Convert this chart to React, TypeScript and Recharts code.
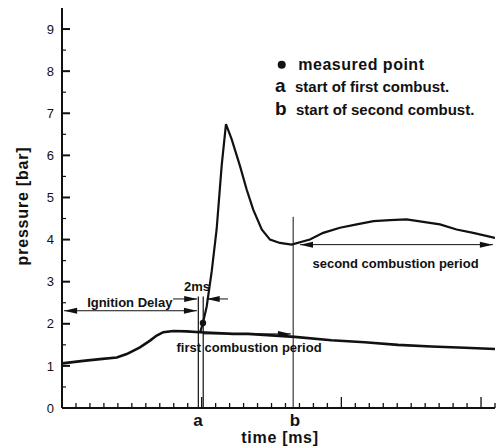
import React from "react";
import { LineChart, Line, XAxis, YAxis, ReferenceLine, ReferenceDot } from "recharts";

// ---- data (time in minor-tick units of ms, pressure in bar) ----
const lowTime = [0, 1.52, 2.72, 3.92, 4.63, 5.58, 6.3, 6.78, 7.25, 7.97, 8.93, 9.88, 12.26, 13.32, 16.66, 19.28, 21.67, 24.05, 26.44, 28.83, 31];
const lowPressure = [1.06, 1.12, 1.16, 1.2, 1.28, 1.44, 1.6, 1.72, 1.8, 1.83, 1.82, 1.8, 1.76, 1.76, 1.69, 1.61, 1.56, 1.5, 1.46, 1.43, 1.4];

const highTime = [9.9, 10.09, 10.36, 10.72, 11.07, 11.43, 11.74, 12.15, 12.74, 13.22, 13.69, 14.3, 14.89, 15.6, 16.44, 17.75, 18.7, 19.9, 21.1, 22.3, 23.48, 24.67, 25.86, 27.06, 28.25, 29.44, 31];
const highPressure = [1.81, 2.02, 2.41, 3.25, 4.24, 5.75, 6.74, 6.38, 5.75, 5.19, 4.71, 4.24, 4.0, 3.92, 3.88, 4.0, 4.16, 4.28, 4.36, 4.44, 4.46, 4.48, 4.42, 4.36, 4.24, 4.16, 4.04];

const measuredPoint = { t: 10.09, p: 2.02 };

const xMinorTicks = Array.from({ length: 32 }, (_, i) => i);
const xMajorEvery = 10;
const yTicks = Array.from({ length: 19 }, (_, i) => i * 0.5);
const markLabels = ["a", "b"];
const markLabelTimes = [9.74, 16.68];

const aLineTimes = [9.76, 10.11];
const aLineTop = 2.65;
const bLineTime = 16.55;
const bLineTop = 4.54;

const xDomain = [0, 31];
const yDomain = [0, 9.5];

// annotation arrows: [t1, p1, t2, p2, doubleHeaded]
const arrows: [number, number, number, number, boolean][] = [
  [0.15, 2.31, 9.66, 2.31, true],
  [7.95, 2.59, 9.68, 2.59, false],
  [11.88, 2.59, 10.36, 2.59, false],
  [10.1, 1.76, 16.39, 1.76, false],
  [17.04, 3.88, 30.85, 3.88, true],
];

const annotationTexts = ["Ignition Delay", "2ms", "first combustion period", "second combustion period"];
const annotationTimes = [4.85, 9.66, 13.39, 23.88];
const annotationPressures = [2.41, 2.78, 1.33, 3.33];

const legendTexts = ["measured point", "start of first combust.", "start of second combust."];
const legendSymbols = ["●", "a", "b"];
const legendSymbolTimes = [15.73, 15.25, 15.25];
const legendTextTimes = [16.92, 16.68, 16.75];
const legendPressures = [8.03, 7.51, 6.96];

const lowData = lowTime.map((t, i) => ({ t, p: lowPressure[i] }));
const highData = highTime.map((t, i) => ({ t, p: highPressure[i] }));

const FONT = "'Liberation Sans', Arial, Helvetica, sans-serif";
const INK = "#111";

const XTick = (props: any) => {
  const { x, y, payload } = props;
  const v = payload.value;
  const li = markLabelTimes.indexOf(v);
  if (li >= 0) {
    return (
      <text x={x} y={y + 18} textAnchor="middle" fontFamily={FONT} fontWeight="bold" fontSize={17} fill={INK}>
        {markLabels[li]}
      </text>
    );
  }
  const major = Math.abs(v % xMajorEvery) < 1e-6;
  const len = major ? 11 : 5;
  return <line x1={x} y1={y} x2={x} y2={y - len} stroke={INK} strokeWidth={1.3} />;
};

const YTick = (props: any) => {
  const { x, y, payload } = props;
  const v = payload.value;
  const major = Math.abs(v - Math.round(v)) < 1e-6;
  return (
    <g>
      <line x1={x} y1={y} x2={x + (major ? 8 : 4)} y2={y} stroke={INK} strokeWidth={major ? 2 : 1.2} />
      {major && (
        <text x={x - 8} y={y} dy="0.36em" textAnchor="end" fontFamily={FONT} fontSize={13} fill={INK}>
          {v}
        </text>
      )}
    </g>
  );
};

function head(tx: number, ty: number, ux: number, uy: number) {
  const L = 13;
  const W = 3;
  const bx = tx - ux * L;
  const by = ty - uy * L;
  const px = -uy * W;
  const py = ux * W;
  return <polygon points={`${tx},${ty} ${bx + px},${by + py} ${bx - px},${by - py}`} fill={INK} />;
}

function arrowShape(both: boolean) {
  return (p: any) => {
    const { x1, y1, x2, y2 } = p;
    const dx = x2 - x1;
    const dy = y2 - y1;
    const len = Math.hypot(dx, dy) || 1;
    const ux = dx / len;
    const uy = dy / len;
    return (
      <g>
        <line x1={x1} y1={y1} x2={x2} y2={y2} stroke={INK} strokeWidth={1} />
        {head(x2, y2, ux, uy)}
        {both && head(x1, y1, -ux, -uy)}
      </g>
    );
  };
}

function textShape(text: string, anchor: string, size: number, spacing = 0) {
  return (p: any) => (
    <text
      x={p.cx}
      y={p.cy}
      textAnchor={anchor}
      fontFamily={FONT}
      fontWeight="bold"
      fontSize={size}
      letterSpacing={spacing}
      fill={INK}
    >
      {text}
    </text>
  );
}

export default function App() {
  return (
    <div style={{ position: "absolute", left: 0, top: 0, background: "#fff" }}>
      <LineChart width={496} height={448} margin={{ top: 8, right: 1, bottom: 0, left: 0 }}>
        <XAxis
          dataKey="t"
          type="number"
          domain={xDomain}
          ticks={[...xMinorTicks, ...markLabelTimes]}
          interval={0}
          tick={<XTick />}
          tickLine={false}
          tickSize={0}
          tickMargin={0}
          height={40}
          axisLine={{ stroke: INK, strokeWidth: 2 }}
          allowDataOverflow
          label={{
            content: (p: any) => (
              <text
                x={p.viewBox.x + p.viewBox.width / 2 + 1.5}
                y={p.viewBox.y + 35}
                textAnchor="middle"
                fontFamily={FONT}
                fontWeight="bold"
                fontSize={16}
                letterSpacing={0.7}
                fill={INK}
              >
                time [ms]
              </text>
            ),
          }}
        />
        <XAxis xAxisId="top" orientation="top" type="number" domain={xDomain} tick={false} tickLine={false} height={0} axisLine={{ stroke: INK, strokeWidth: 2 }} />
        <YAxis
          type="number"
          domain={yDomain}
          ticks={yTicks}
          interval={0}
          tick={<YTick />}
          tickLine={false}
          tickSize={0}
          tickMargin={0}
          width={62}
          axisLine={{ stroke: INK, strokeWidth: 2 }}
          allowDataOverflow
          label={{
            content: (p: any) => {
              const cx = p.viewBox.x + 28;
              const cy = p.viewBox.y + p.viewBox.height / 2 - 2;
              return (
                <text
                  x={cx}
                  y={cy}
                  transform={`rotate(-90 ${cx} ${cy})`}
                  textAnchor="middle"
                  fontFamily={FONT}
                  fontWeight="bold"
                  fontSize={16}
                  letterSpacing={0.8}
                  fill={INK}
                >
                  pressure [bar]
                </text>
              );
            },
          }}
        />
        <YAxis yAxisId="right" orientation="right" type="number" domain={yDomain} tick={false} tickLine={false} width={0} axisLine={{ stroke: INK, strokeWidth: 2 }} />

        {aLineTimes.map((t) => (
          <ReferenceLine key={`a${t}`} segment={[{ x: t, y: 0 }, { x: t, y: aLineTop }]} stroke={INK} strokeWidth={1.2} />
        ))}
        <ReferenceLine segment={[{ x: bLineTime, y: 0 }, { x: bLineTime, y: bLineTop }]} stroke={INK} strokeWidth={1} />

        <Line data={lowData} dataKey="p" type="linear" dot={false} stroke={INK} strokeWidth={2.6} isAnimationActive={false} />
        <Line data={highData} dataKey="p" type="linear" dot={false} stroke={INK} strokeWidth={2.2} isAnimationActive={false} />

        {arrows.map(([t1, p1, t2, p2, both], i) => (
          <ReferenceLine key={`ar${i}`} segment={[{ x: t1, y: p1 }, { x: t2, y: p2 }]} shape={arrowShape(both)} />
        ))}

        <ReferenceDot x={measuredPoint.t} y={measuredPoint.p} r={3.2} fill={INK} stroke="none" />

        {annotationTexts.map((s, i) => (
          <ReferenceDot key={`an${i}`} x={annotationTimes[i]} y={annotationPressures[i]} r={0} shape={textShape(s, "middle", 13)} />
        ))}

        {legendTexts.map((s, i) => (
          <ReferenceDot key={`lt${i}`} x={legendTextTimes[i]} y={legendPressures[i]} r={0} shape={textShape(s, "start", i === 0 ? 16 : 15, i === 0 ? 0.5 : 0)} />
        ))}
        <ReferenceDot x={legendSymbolTimes[0]} y={legendPressures[0] + 0.12} r={4} fill={INK} stroke="none" />
        {legendSymbols.slice(1).map((s, i) => (
          <ReferenceDot key={`ls${i}`} x={legendSymbolTimes[i + 1]} y={legendPressures[i + 1]} r={0} shape={textShape(s, "start", 19)} />
        ))}
      </LineChart>
    </div>
  );
}
